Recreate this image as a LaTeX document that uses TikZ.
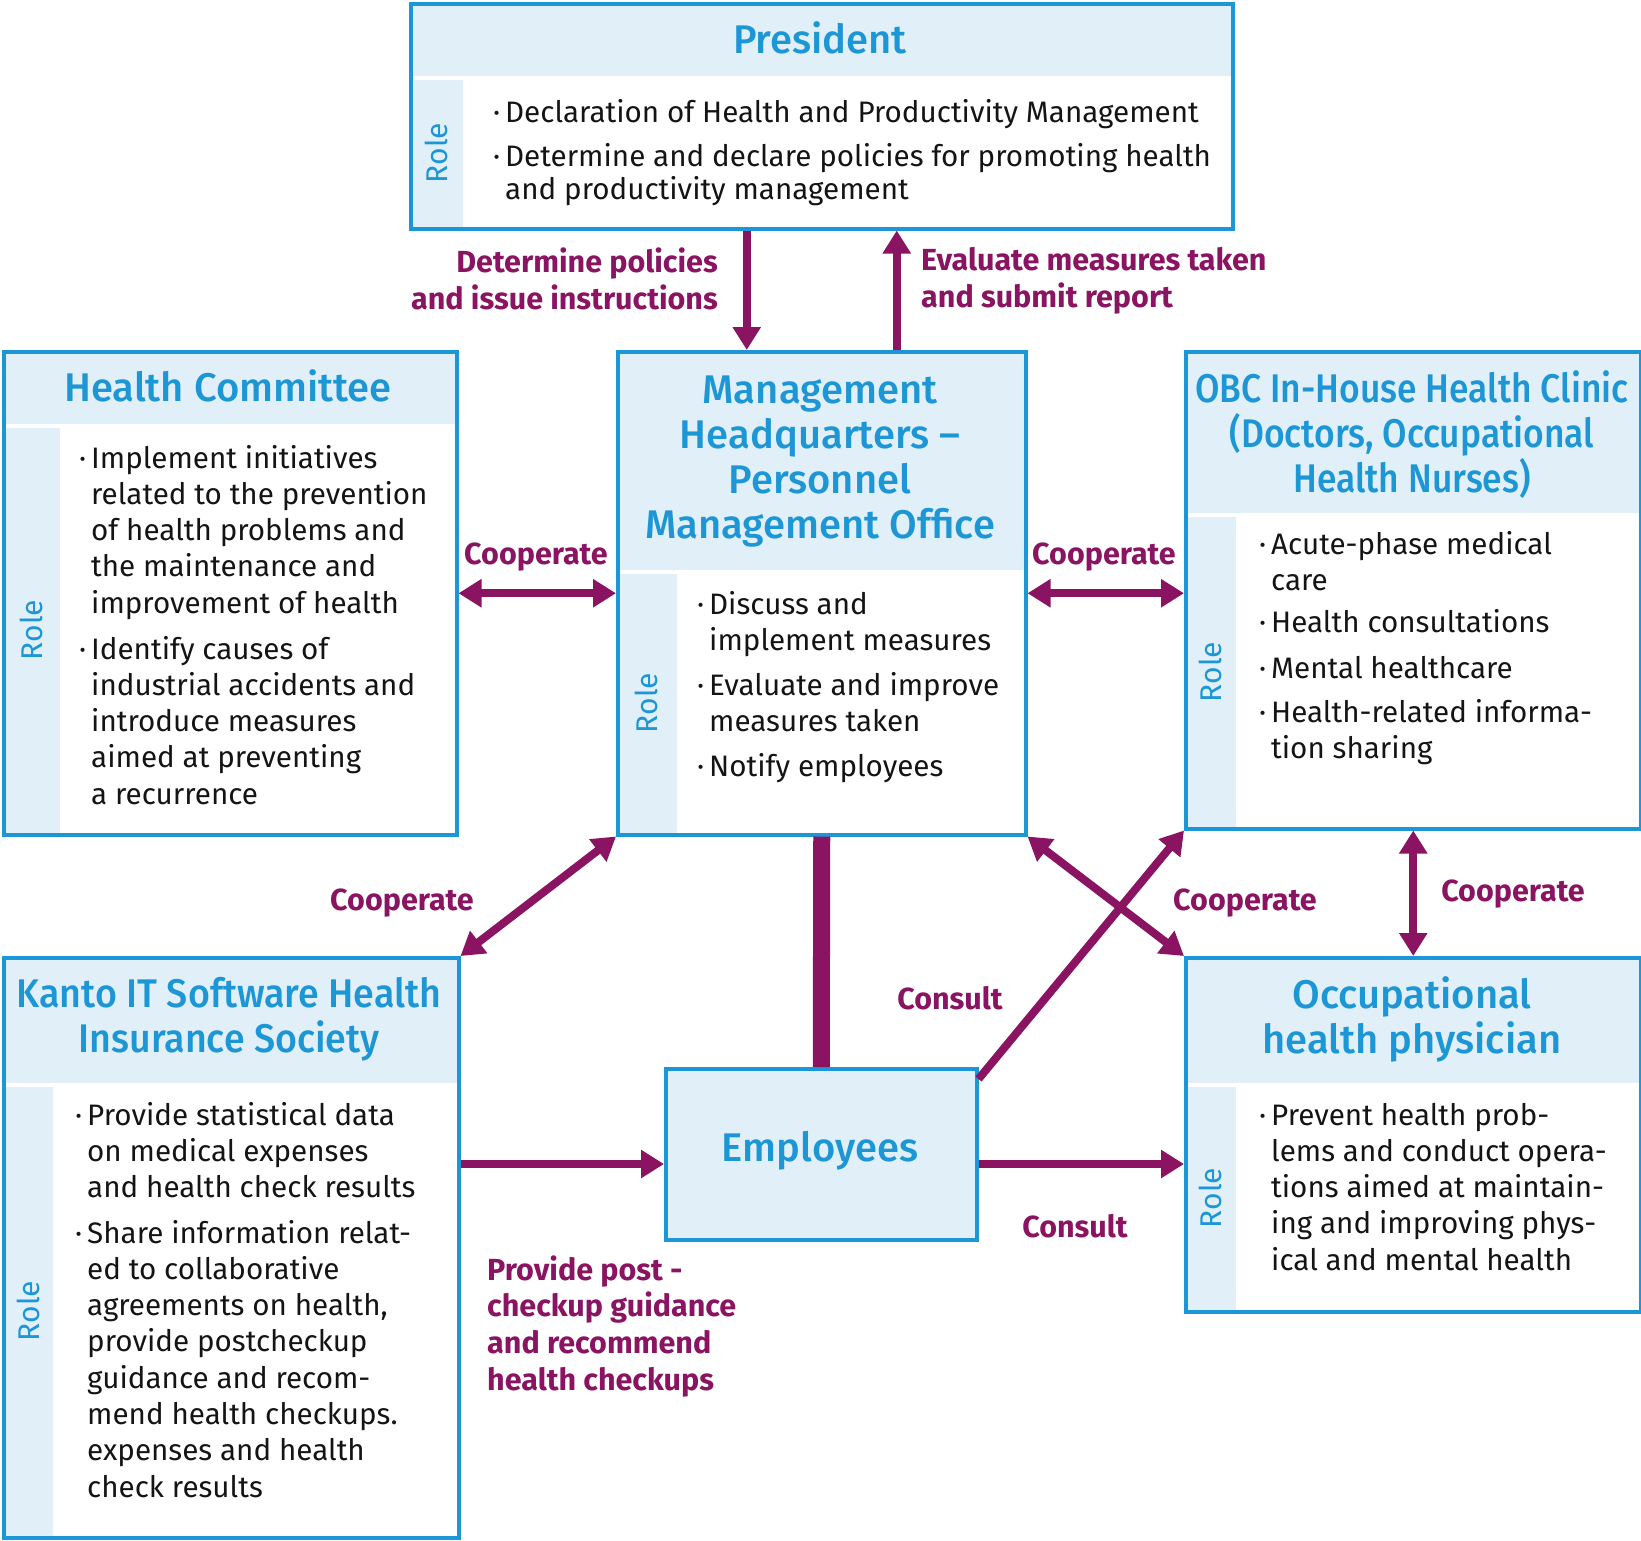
\documentclass[tikz,border=0pt]{standalone}
\usepackage{fontspec}
\setmainfont{Fira Sans}
\newfontfamily\titlefont{Fira Sans Medium}
\newfontfamily\titlenarrow{Fira Sans Medium}[FakeStretch=0.885]
\newfontfamily\titlesemi{Fira Sans Medium}[FakeStretch=0.94]
\usetikzlibrary{arrows.meta,backgrounds}
\definecolor{bblue}{RGB}{28,150,212}
\definecolor{hfill}{RGB}{225,239,249}
\definecolor{mag}{RGB}{138,20,98}
\definecolor{ink}{RGB}{20,20,20}
\newcommand\bu{\llap{·\hspace{5pt}}}
\tikzset{
  box/.style={draw=bblue, line width=3.5pt, inner sep=0, anchor=north west},
  hdr/.style={fill=hfill},
  body/.style={font=\fontsize{29.6}{36.3}\selectfont, text=ink, align=left, inner sep=0, anchor=base west},
  ttl/.style={font=\titlefont\fontsize{40}{45}\selectfont, text=bblue, align=center, inner sep=0},
  role/.style={font=\fontsize{30}{32}\selectfont, text=bblue, rotate=90, inner sep=0},
  lbl/.style={font=\bfseries\fontsize{30.5}{36.6}\selectfont, text=mag, inner sep=0},
  tip/.tip={Triangle[length=23pt,width=27pt]},
  arr/.style={draw=mag, line width=8pt, -tip},
  darr/.style={draw=mag, line width=8pt, tip-tip},
}
\begin{document}
\begin{tikzpicture}[x=1pt,y=-1pt]
\useasboundingbox (0,0) rectangle (1641,1540);
% background fills
\fill[hdr] (409,2) rectangle (1231,76);
\fill[hdr] (409,80) rectangle (463,227);
\fill[hdr] (2,350) rectangle (455,424);
\fill[hdr] (2,428) rectangle (60,833);
\fill[hdr] (616,350) rectangle (1024,570);
\fill[hdr] (616,574) rectangle (677,833);
\fill[hdr] (1184,350) rectangle (1639,513);
\fill[hdr] (1184,517) rectangle (1236,827);
\fill[hdr] (2,956) rectangle (457,1083);
\fill[hdr] (2,1087) rectangle (53,1536);
\fill[hdr] (1184,956) rectangle (1639,1083);
\fill[hdr] (1184,1087) rectangle (1236,1310);
\fill[hdr] (664,1067) rectangle (975,1238);
% boxes
\node[box, minimum width=822pt, minimum height=225pt] (pres) at (409,2) {};
\node[box, minimum width=453pt, minimum height=483pt] (hc) at (2,350) {};
\node[box, minimum width=408pt, minimum height=483pt] (mhq) at (616,350) {};
\node[box, minimum width=455pt, minimum height=477pt] (obc) at (1184,350) {};
\node[box, minimum width=455pt, minimum height=580pt] (kanto) at (2,956) {};
\node[box, minimum width=455pt, minimum height=354pt] (occ) at (1184,956) {};
\node[box, minimum width=311pt, minimum height=171pt] (emp) at (664,1067) {};
% titles
\node[ttl] (tpres) at (820,38) {President};
\node[ttl] (thc) at (228,386) {Health Committee};
\node[ttl] (tmhq) at (820,462) {Management\\Headquarters –\\Personnel\\Management Office};
\node[ttl, font=\titlenarrow\fontsize{40}{45}\selectfont] (tobc) at (1412,435) {OBC In-House Health Clinic\\(Doctors, Occupational\\Health Nurses)};
\node[ttl, font=\titlesemi\fontsize{40}{45}\selectfont] (tkanto) at (229,1019) {Kanto IT Software Health\\Insurance Society};
\node[ttl] (tocc) at (1412,1019) {Occupational\\health physician};
\node[ttl] (temp) at (820,1151) {Employees};
% role labels
\node[role] (rpres) at (436,153) {Role};
\node[role] (rhc) at (31,630) {Role};
\node[role] (rmhq) at (646,703) {Role};
\node[role] (robc) at (1210,672) {Role};
\node[role] (rkanto) at (28,1311) {Role};
\node[role] (rocc) at (1210,1198) {Role};
% bodies (anchor = baseline of last line)
\node[body] (bp1) at (505,122) {\bu Declaration of Health and Productivity Management};
\node[body, font=\fontsize{29.6}{33.5}\selectfont] (bp2) at (505,199.5) {\bu Determine and declare policies for promoting health\\and productivity management};
\node[body] (bh1) at (91,613.2) {\bu Implement initiatives\\related to the prevention\\of health problems and\\the maintenance and\\improvement of health};
\node[body] (bh2) at (91,804.2) {\bu Identify causes of\\industrial accidents and\\introduce measures\\aimed at preventing\\a recurrence};
\node[body] (bm1) at (709,650.3) {\bu Discuss and\\implement measures};
\node[body] (bm2) at (709,731.3) {\bu Evaluate and improve\\measures taken};
\node[body] (bm3) at (709,776) {\bu Notify employees};
\node[body] (bo1) at (1271,590.3) {\bu Acute-phase medical\\care};
\node[body] (bo2) at (1271,632) {\bu Health consultations};
\node[body] (bo3) at (1271,678) {\bu Mental healthcare};
\node[body] (bo4) at (1271,758.3) {\bu Health-related informa-\\tion sharing};
\node[body] (bk1) at (87,1197.6) {\bu Provide statistical data\\on medical expenses\\and health check results};
\node[body] (bk2) at (87,1497.1) {\bu Share information relat-\\ed to collaborative\\agreements on health,\\provide postcheckup\\guidance and recom-\\mend health checkups.\\expenses and health\\check results};
\node[body] (bc1) at (1271,1270.2) {\bu Prevent health prob-\\lems and conduct opera-\\tions aimed at maintain-\\ing and improving phys-\\ical and mental health};
% connectors
\coordinate (yk) at (0,1164);
\draw[arr] ([xshift=-75pt]pres.south) -- ([xshift=-75pt]mhq.north);
\draw[arr] ([xshift=75pt]mhq.north) -- ([xshift=75pt]pres.south);
\draw[darr] (hc.east) -- (mhq.west);
\draw[darr] (mhq.east) -- (mhq.east -| obc.west);
\draw[darr] (mhq.south west) -- (kanto.north east);
\draw[darr] (mhq.south east) -- (occ.north west);
\draw[arr] ([yshift=-12pt]emp.north east) -- (obc.south west);
\draw[draw=mag, line width=17pt] (mhq.south) -- (emp.north);
\draw[darr] (obc.south) -- (occ.north);
\draw[arr] (kanto.east |- yk) -- (emp.west |- yk);
\draw[arr] (emp.east |- yk) -- (occ.west |- yk);
% labels
\node[lbl, align=right, anchor=east] (l1) at (718,279) {Determine policies\\and issue instructions};
\node[lbl, align=left, anchor=west] (l2) at (921,281) {Evaluate measures taken\\and submit report};
\node[lbl] (l3) at (536,557) {Cooperate};
\node[lbl] (l4) at (1104,557) {Cooperate};
\node[lbl] (l5) at (402,903) {Cooperate};
\node[lbl] (l6) at (1245,903) {Cooperate};
\node[lbl] (l7) at (1513,894) {Cooperate};
\node[lbl] (l8) at (950,998) {Consult};
\node[lbl] (l9) at (1075,1226) {Consult};
\node[lbl, align=left, anchor=base west] (l10) at (487,1390) {Provide post -\\checkup guidance\\and recommend\\health checkups};
\end{tikzpicture}
\end{document}
